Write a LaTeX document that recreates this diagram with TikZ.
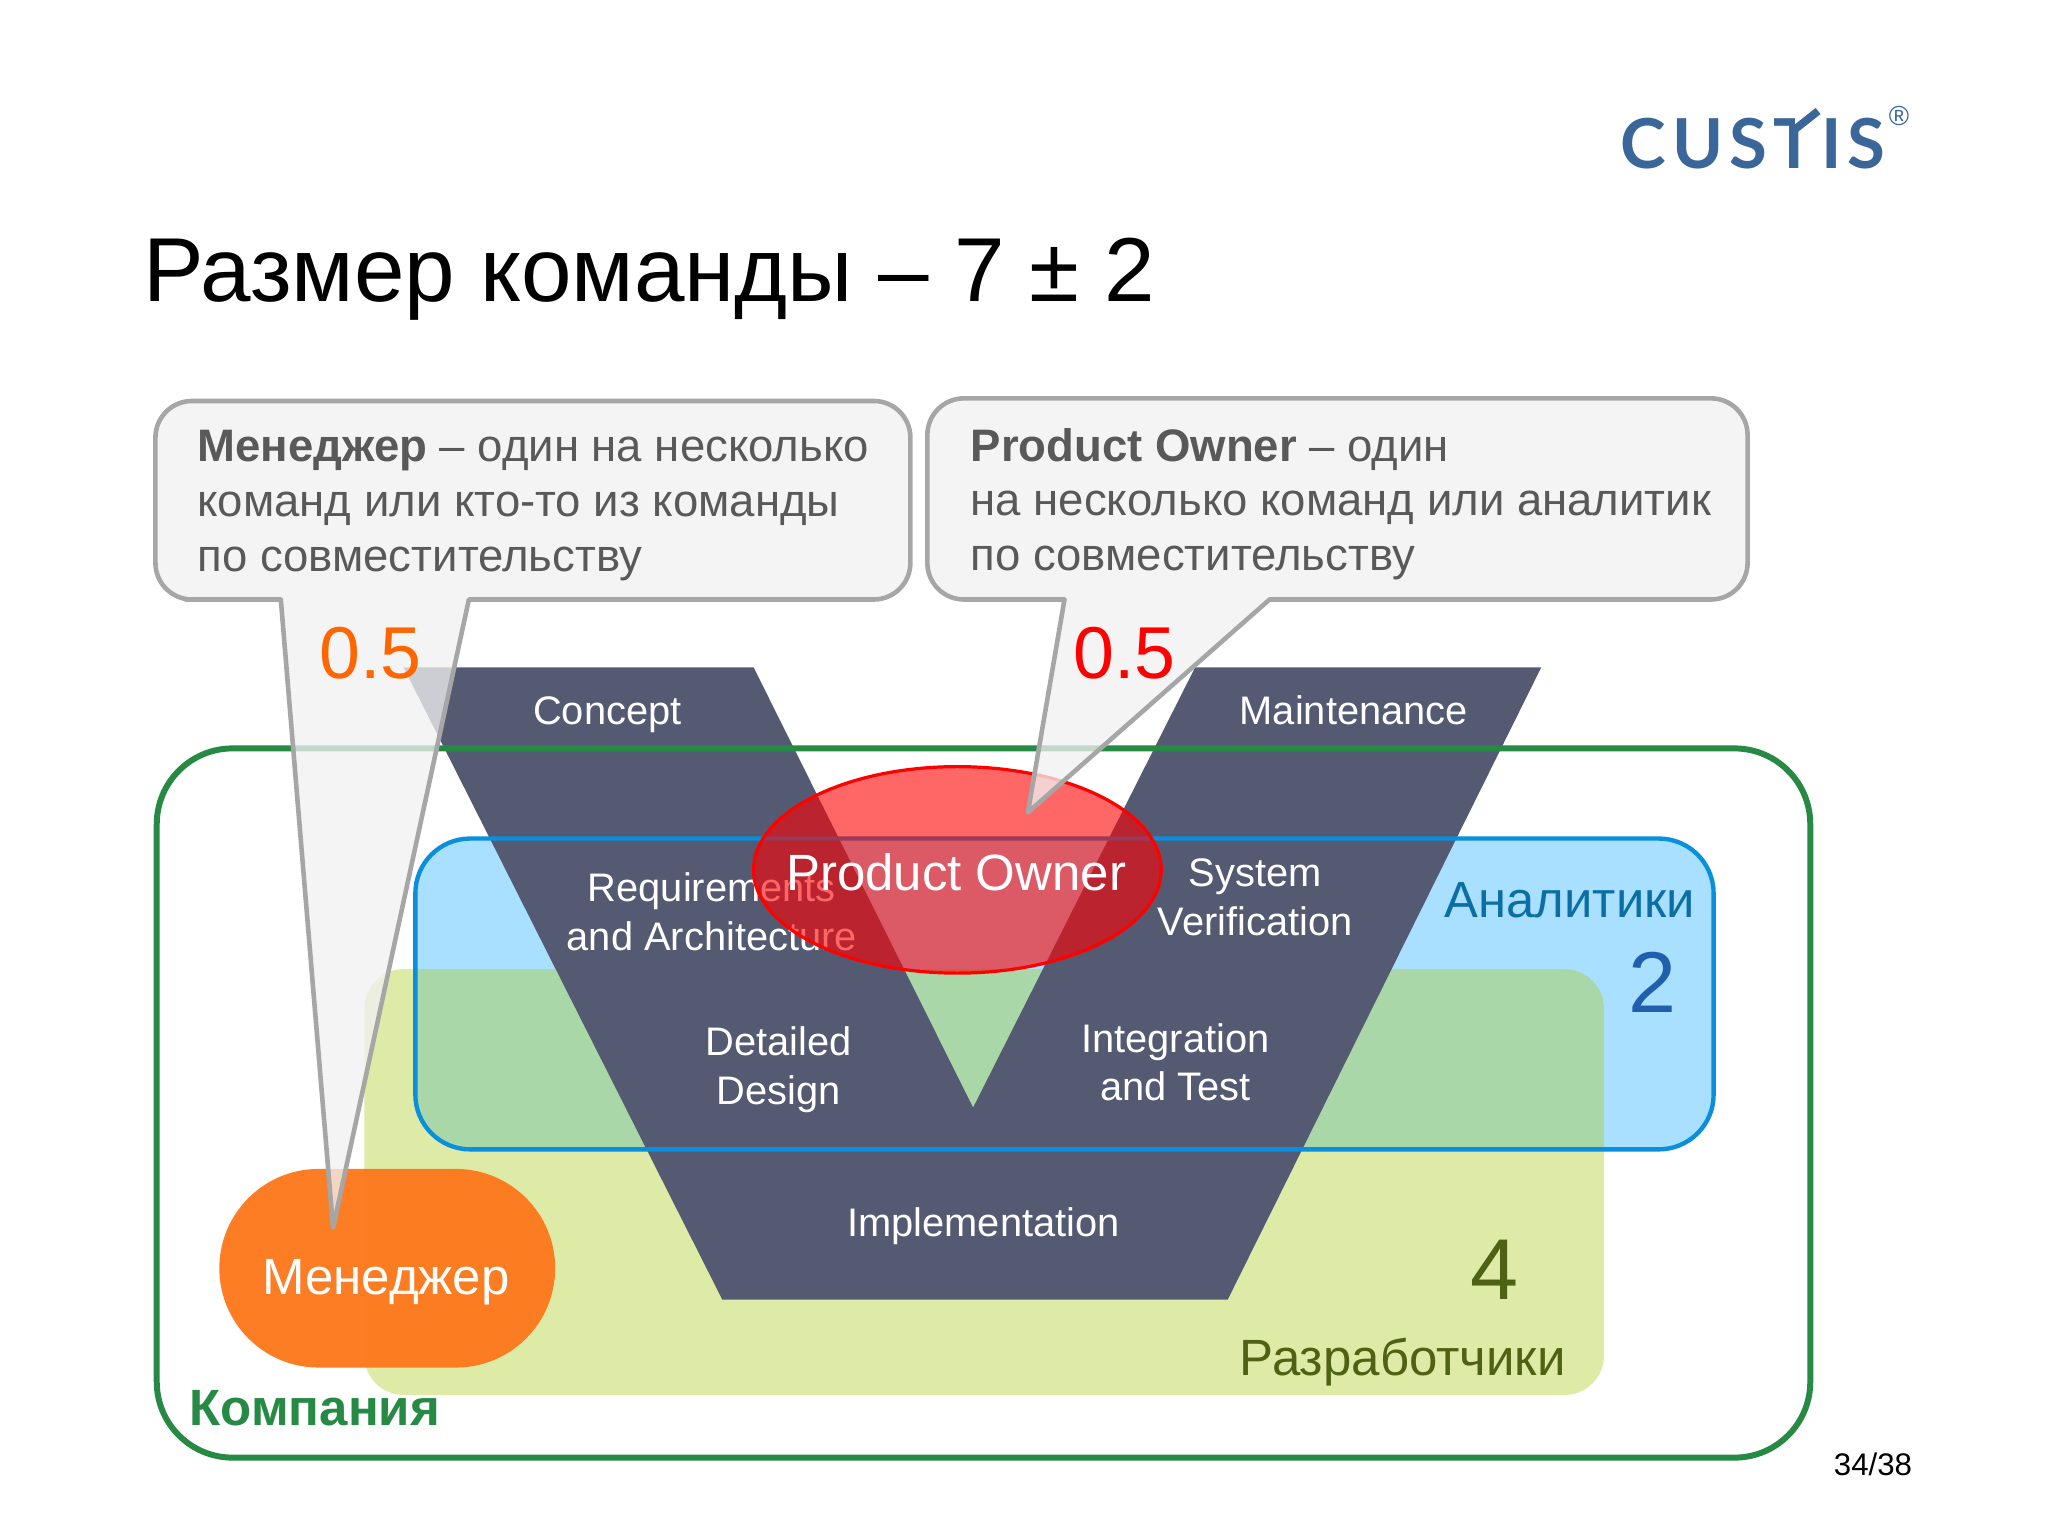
\documentclass[tikz,border=0pt]{standalone}
\usepackage{fontspec}
\setmainfont{Liberation Sans}
\newfontfamily\logofont[LetterSpace=9]{Lato}
\usetikzlibrary{shapes.geometric,shapes.misc}
\definecolor{vgray}{HTML}{555A73}
\definecolor{frameblue}{HTML}{0A8FDC}
\definecolor{fillblue}{HTML}{A9DFFF}
\definecolor{filllime}{RGB}{172,205,37}
\definecolor{framegreen}{HTML}{268A45}
\definecolor{logoblue}{HTML}{3A6699}
\definecolor{calloutgray}{HTML}{A6A6A6}
\definecolor{calloutfill}{HTML}{F1F1F1}
\definecolor{calloutink}{HTML}{595959}
\definecolor{devolive}{HTML}{4F6213}
\definecolor{mgrorange}{HTML}{FD791D}
\definecolor{analystblue}{HTML}{0B6FA6}
\definecolor{countblue}{HTML}{1F5FAE}
\newcommand\fs[2][12]{\fontsize{#2}{#1}\selectfont}

\begin{document}
\begin{tikzpicture}[x=0.01cm, y=-0.01cm,
  stage/.style = {text=white, align=center, font=\fs[10.5]{8.67}},
  calloutbox/.style = {draw=calloutgray, fill=calloutfill, fill opacity=0.77,
    line width=1pt, line join=round},
  callouttext/.style = {anchor=west, align=left, text=calloutink,
    font=\fs[11.95]{9.91}},
  every node/.style = {inner sep=0pt}]
  \useasboundingbox (0,0) rectangle (1568,1176);
  \fill[white] (0,0) rectangle (1568,1176);

  \node[anchor=west, font=\fs{19.77}] (title) at (109,214) {Размер команды – 7 ± 2};

  % logo
  \node[text=logoblue, font=\logofont\bfseries\fs{15}] (logo) at (1342,110) {CUSTIS};
  \fill[white] (1374,84) rectangle (1393,100);
  \coordinate (logotee) at (1373,100);
  \coordinate (logotip) at (1392,85);
  \draw[logoblue, line width=1.7pt] (logotee) -- (logotip);
  \node[text=logoblue, font=\fs{6}] (logomark) at (1454,89) {®};

  % teams
  \draw[fill=fillblue, draw=none, rounded corners=0.42cm] (318,642) rectangle (1312,880);
  \fill[filllime, fill opacity=0.4, rounded corners=0.3cm] (279,742) rectangle (1228,1068);

  % the V
  \fill[vgray] (309,511) -- (577,511) -- (745,848) -- (915,511) -- (1180,511)
    -- (940,995) -- (553,995) -- cycle;
  \node[stage] (concept) at (465,547) {Concept};
  \node[stage] (maintenance) at (1036.5,544) {Maintenance};
  \node[stage] (requirements) at (545,698) {Requirements\\and Architecture};
  \node[stage] (verification) at (961,687) {System\\Verification};
  \node[stage] (design) at (596,819) {Detailed\\Design};
  \node[stage] (integration) at (900,813.5) {Integration\\and Test};
  \node[stage] (implementation) at (753,939) {Implementation};

  \draw[frameblue, line width=0.95pt, rounded corners=0.42cm] (318,642) rectangle (1312,880);
  \draw[framegreen, line width=1.3pt, rounded corners=0.58cm] (120,573) rectangle (1386,1116);

  \node[ellipse, draw=red, fill=red, fill opacity=0.6, line width=0.7pt,
    minimum width=3.12cm, minimum height=1.58cm] (owner) at (733,666) {};
  \node[text=white, font=\fs{11.1}] (ownerlabel) at (732,668) {Product Owner};
  \node[rounded rectangle, fill=mgrorange, fill opacity=0.97,
    minimum width=2.57cm, minimum height=1.52cm] (manager) at (296.5,971) {};
  \node[text=white, font=\fs{11.1}] (managerlabel) at (295.5,982) {Менеджер};

  \node[text=analystblue, font=\fs{11.05}] (analysts) at (1202,689) {Аналитики};
  \node[text=countblue, font=\fs{18.8}] (analystcount) at (1265,752) {2};
  \node[text=devolive, font=\fs{18.8}] (devcount) at (1144,972) {4};
  \node[text=devolive, font=\fs{11.1}] (developers) at (1074,1043) {Разработчики};
  \node[text=framegreen, font=\bfseries\fs{11.1}] (company) at (241,1078) {Компания};

  % callouts
  \draw[calloutbox] (359,459) [rounded corners=0.28cm] -- (697,459) -- (697,307)
    -- (119,307) -- (119,459) -- (170,459) [sharp corners] -- (215,459)
    -- (255,940) -- cycle;
  \draw[calloutbox] (972,459) [rounded corners=0.28cm] -- (1338,459) -- (1338,305)
    -- (710,305) -- (710,459) -- (770,459) [sharp corners] -- (815,459)
    -- (787,622) -- cycle;
  \node[callouttext] (managernote) at (150.5,387)
    {\textbf{Менеджер} – один на несколько\\команд или кто-то из команды\\по совместительству};
  \node[callouttext] (ownernote) at (742.5,386)
    {\textbf{Product Owner} – один\\на несколько команд или аналитик\\по совместительству};
  \node[text=orange!80!red, font=\fs{16}] (managershare) at (283.5,500) {0.5};
  \node[text=red, font=\fs{16}] (ownershare) at (861,500) {0.5};

  \node[font=\fs{6.8}] (pagenumber) at (1434,1121) {34/38};
\end{tikzpicture}
\end{document}
